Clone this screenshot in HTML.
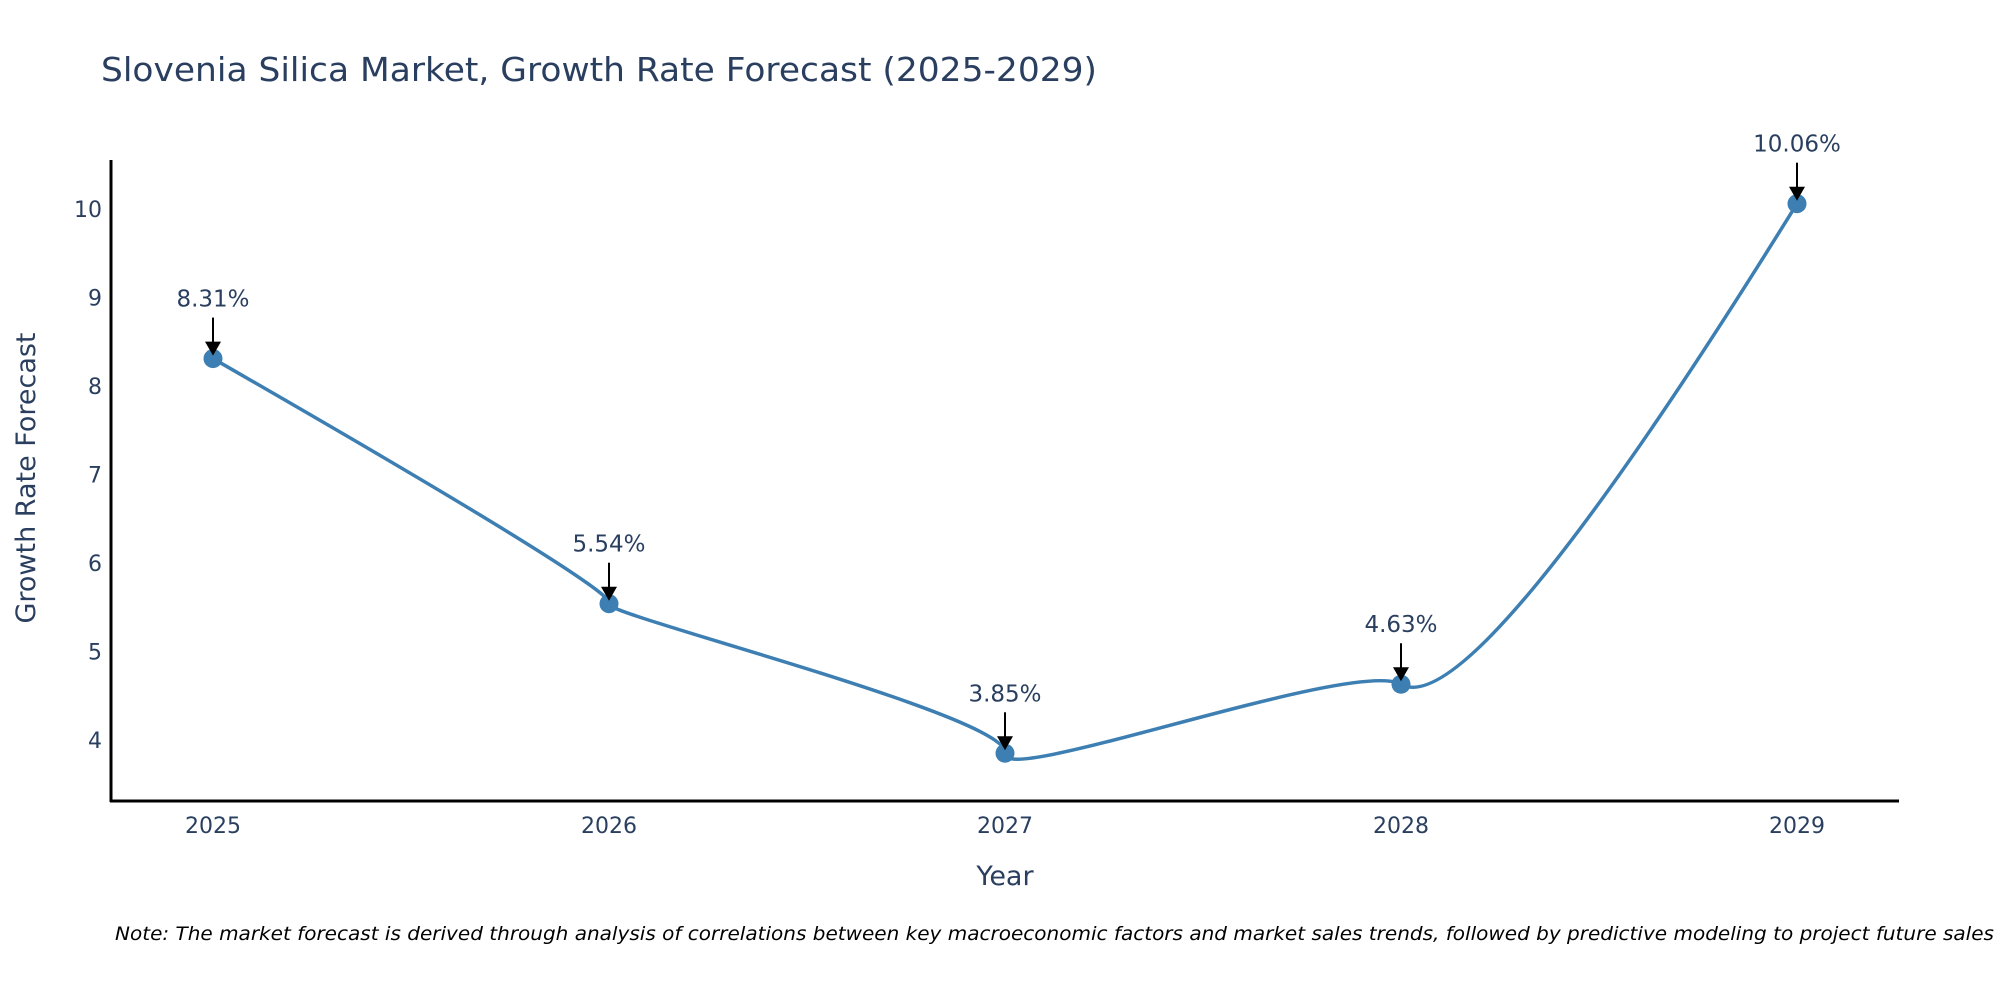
<!DOCTYPE html>
<html><head><meta charset="utf-8"><style>
body{margin:0;background:#fff;}
svg{display:block;font-family:"DejaVu Sans","Liberation Sans",sans-serif;}
</style></head><body>
<svg id="chart" width="2000" height="1000" viewBox="0 0 2000 1000" xmlns="http://www.w3.org/2000/svg">
<rect width="2000" height="1000" fill="#fff"/>
<text x="101" y="81" font-size="33" fill="#2a3f5f" textLength="996" lengthAdjust="spacingAndGlyphs">Slovenia Silica Market, Growth Rate Forecast (2025-2029)</text>
<g id="yticks"></g><g id="xticks"></g>
<line x1="111" y1="160" x2="111" y2="802" stroke="#000" stroke-width="3"/>
<line x1="110" y1="801" x2="1899" y2="801" stroke="#000" stroke-width="3"/>
<path id="line" fill="none" stroke="#3d7fb2" stroke-width="3.5"/>
<g id="marks"></g>
<text transform="translate(35,478) rotate(-90)" text-anchor="middle" font-size="27" fill="#2a3f5f">Growth Rate Forecast</text>
<text x="1005" y="885" text-anchor="middle" font-size="27" fill="#2a3f5f">Year</text>
<text x="115" y="940" font-size="19" font-style="italic" fill="#000" textLength="1879" lengthAdjust="spacingAndGlyphs">Note: The market forecast is derived through analysis of correlations between key macroeconomic factors and market sales trends, followed by predictive modeling to project future sales</text>
</svg>
<script>
const years = [2025, 2026, 2027, 2028, 2029];
const values = [8.31, 5.54, 3.85, 4.63, 10.06];
const yTicks = [4, 5, 6, 7, 8, 9, 10];
const NS = "http://www.w3.org/2000/svg";
const xs = i => 213 + i * 396;
const ys = v => 740 - (v - 4) * 88.5;
function mk(tag, attrs, parent, text){const e=document.createElementNS(NS,tag);for(const k in attrs)e.setAttribute(k,attrs[k]);if(text!==undefined)e.textContent=text;parent.appendChild(e);return e;}
const yt=document.getElementById('yticks');
yTicks.forEach(t=>{
  const e=mk('text',{x:102,y:ys(t)+8,'text-anchor':'end','font-size':22,fill:'#2a3f5f'},yt,String(t));
  
  
});
const xt=document.getElementById('xticks');
years.forEach((y,i)=>{
  const e=mk('text',{x:xs(i),y:833,'text-anchor':'middle','font-size':22,fill:'#2a3f5f'},xt,String(y));
  
  
});
const pts=values.map((v,i)=>[xs(i),ys(v)]);
function tangent(p0,p1,p2,s){
  const dx1=p0[0]-p1[0],dy1=p0[1]-p1[1],dx2=p1[0]-p2[0],dy2=p1[1]-p2[1];
  const d1a=Math.pow(dx1*dx1+dy1*dy1,s/2),d2a=Math.pow(dx2*dx2+dy2*dy2,s/2);
  const nx=(d2a*d2a*dx1-d1a*d1a*dx2)*s,ny=(d2a*d2a*dy1-d1a*d1a*dy2)*s;
  const den1=3*d2a*(d1a+d2a),den2=3*d1a*(d1a+d2a);
  return [[p1[0]+nx/den1,p1[1]+ny/den1],[p1[0]-nx/den2,p1[1]-ny/den2]];
}
const tg=[];
for(let i=1;i<pts.length-1;i++)tg.push(tangent(pts[i-1],pts[i],pts[i+1],1));
let d=`M${pts[0]} Q${tg[0][0]} ${pts[1]}`;
for(let i=1;i<pts.length-2;i++)d+=` C${tg[i-1][1]} ${tg[i][0]} ${pts[i+1]}`;
d+=` Q${tg[tg.length-1][1]} ${pts[pts.length-1]}`;
document.getElementById('line').setAttribute('d',d);
const g=document.getElementById('marks');
values.forEach((v,i)=>{
  const x=xs(i),y=ys(v);
  const c=mk('circle',{cx:x,cy:y,r:9.5,fill:'#3d7fb2'},g);
  
  
  const l=mk('line',{x1:x,y1:y-41,x2:x,y2:y-16,stroke:'#000','stroke-width':2},g);
  
  
  const a=mk('polygon',{points:`${x-8},${y-17} ${x+8},${y-17} ${x},${y-3}`,fill:'#000'},g);
  
  
  const t=mk('text',{x:x,y:y-52,'text-anchor':'middle','font-size':23,fill:'#2a3f5f'},g,v.toFixed(2)+'%');
  
  
});
</script>
</body></html>
